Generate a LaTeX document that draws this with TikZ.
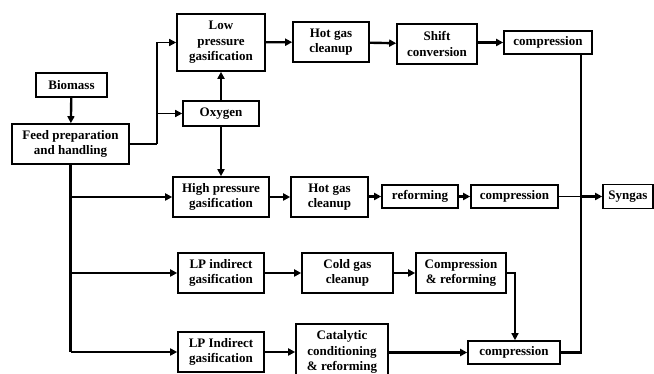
\documentclass[tikz,border=0pt]{standalone}
\usepackage{fontspec}
\setmainfont{Liberation Serif}
\usetikzlibrary{arrows.meta}
\begin{document}
\begin{tikzpicture}[x=1pt,y=-1pt,
  box/.style={draw,line width=1.6pt,inner sep=1pt,align=center,
    font=\bfseries\fontsize{13}{15.5}\selectfont},
  arr/.style={line width=2.4pt,-{Triangle[length=7pt,width=7pt]}},
  ln/.style={line width=2.4pt},
  thin arr/.style={line width=1.4pt,-{Triangle[length=7pt,width=7pt]}},
  thinln/.style={line width=1.4pt}]
\useasboundingbox (0,0) rectangle (654,374);
\node[box,minimum width=88pt,minimum height=57pt] (lpg) at (221,42.5) {Low\\pressure\\gasification};
\node[box,minimum width=76pt,minimum height=40pt] (hot1) at (331,42) {Hot gas\\cleanup};
\node[box,minimum width=80pt,minimum height=40pt] (shift) at (437,44) {Shift\\conversion};
\node[box,minimum width=88pt,minimum height=23pt] (comp1) at (548,42.5) {compression};
\node[box,minimum width=71pt,minimum height=24pt] (bio) at (71.5,85) {Biomass};
\node[box,minimum width=117pt,minimum height=40pt] (feed) at (70.5,144) {Feed preparation\\and handling};
\node[box,minimum width=76pt,minimum height=25pt] (oxy) at (221,113.5) {Oxygen};
\node[box,minimum width=96pt,minimum height=40pt] (hpg) at (221,197) {High pressure\\gasification};
\node[box,minimum width=77pt,minimum height=40pt] (hot2) at (329.5,197) {Hot gas\\cleanup};
\node[box,minimum width=76pt,minimum height=23pt] (ref) at (420,196.5) {reforming};
\node[box,minimum width=87pt,minimum height=23pt] (comp2) at (514.5,196.5) {compression};
\node[box,minimum width=50pt,minimum height=24pt] (syn) at (628,196.5) {Syngas};
\node[box,minimum width=86pt,minimum height=40pt] (lpi) at (221,273) {LP indirect\\gasification};
\node[box,minimum width=91pt,minimum height=40pt] (cold) at (347.5,273) {Cold gas\\cleanup};
\node[box,minimum width=90pt,minimum height=40pt] (cr) at (461,273) {Compression\\\& reforming};
\node[box,minimum width=86pt,minimum height=40pt] (lpi2) at (221,352) {LP Indirect\\gasification};
\node[box,minimum width=92pt,minimum height=56pt] (cat) at (342,352) {Catalytic\\conditioning\\\& reforming};
\node[box,minimum width=92pt,minimum height=23pt] (comp3) at (514,352.5) {compression};
% junctions
\coordinate (fj) at (157,144);
\coordinate (rj) at (581,196.5);
\coordinate (ct) at (515,273);
% top route
\draw[arr] (bio) -- (feed);
\draw[thinln] (feed.east |- fj) -- (fj);
\draw[thin arr] (fj) |- (lpg.west);
\draw[thin arr] (fj) |- (oxy.west);
\draw[arr] (oxy) -- (lpg);
\draw[arr] (oxy) -- (hpg);
\draw[arr] (lpg) -- (hot1);
\draw[arr] (hot1) -- (shift);
\draw[arr] (shift.east |- comp1.west) -- (comp1.west);
% left trunk
\draw[ln] (feed.south) -- (feed.south |- lpi2.west);
\draw[arr] (feed.south |- lpi2.west) -- (lpi2.west);
\draw[arr] (feed.south |- hpg.west) -- (hpg.west);
\draw[arr] (feed.south |- lpi.west) -- (lpi.west);
% rows
\draw[arr] (hpg) -- (hot2);
\draw[arr] (hot2.east |- ref.west) -- (ref.west);
\draw[arr] (ref) -- (comp2);
\draw[thinln] (comp2.east) -- (rj);
\draw[arr] (lpi) -- (cold);
\draw[arr] (cold) -- (cr);
\draw[thin arr] (cr.east) -- (ct) -- (comp3.north -| ct);
\draw[arr] (lpi2) -- (lpi2 -| cat.west);
\draw[arr] (cat.east |- comp3.west) -- (comp3.west);
% right trunk
\draw[ln] (comp1.south -| rj) -- (rj);
\draw[ln] (comp3.east) -| (rj);
\draw[arr] (rj) -- (syn.west);
\end{tikzpicture}
\end{document}
